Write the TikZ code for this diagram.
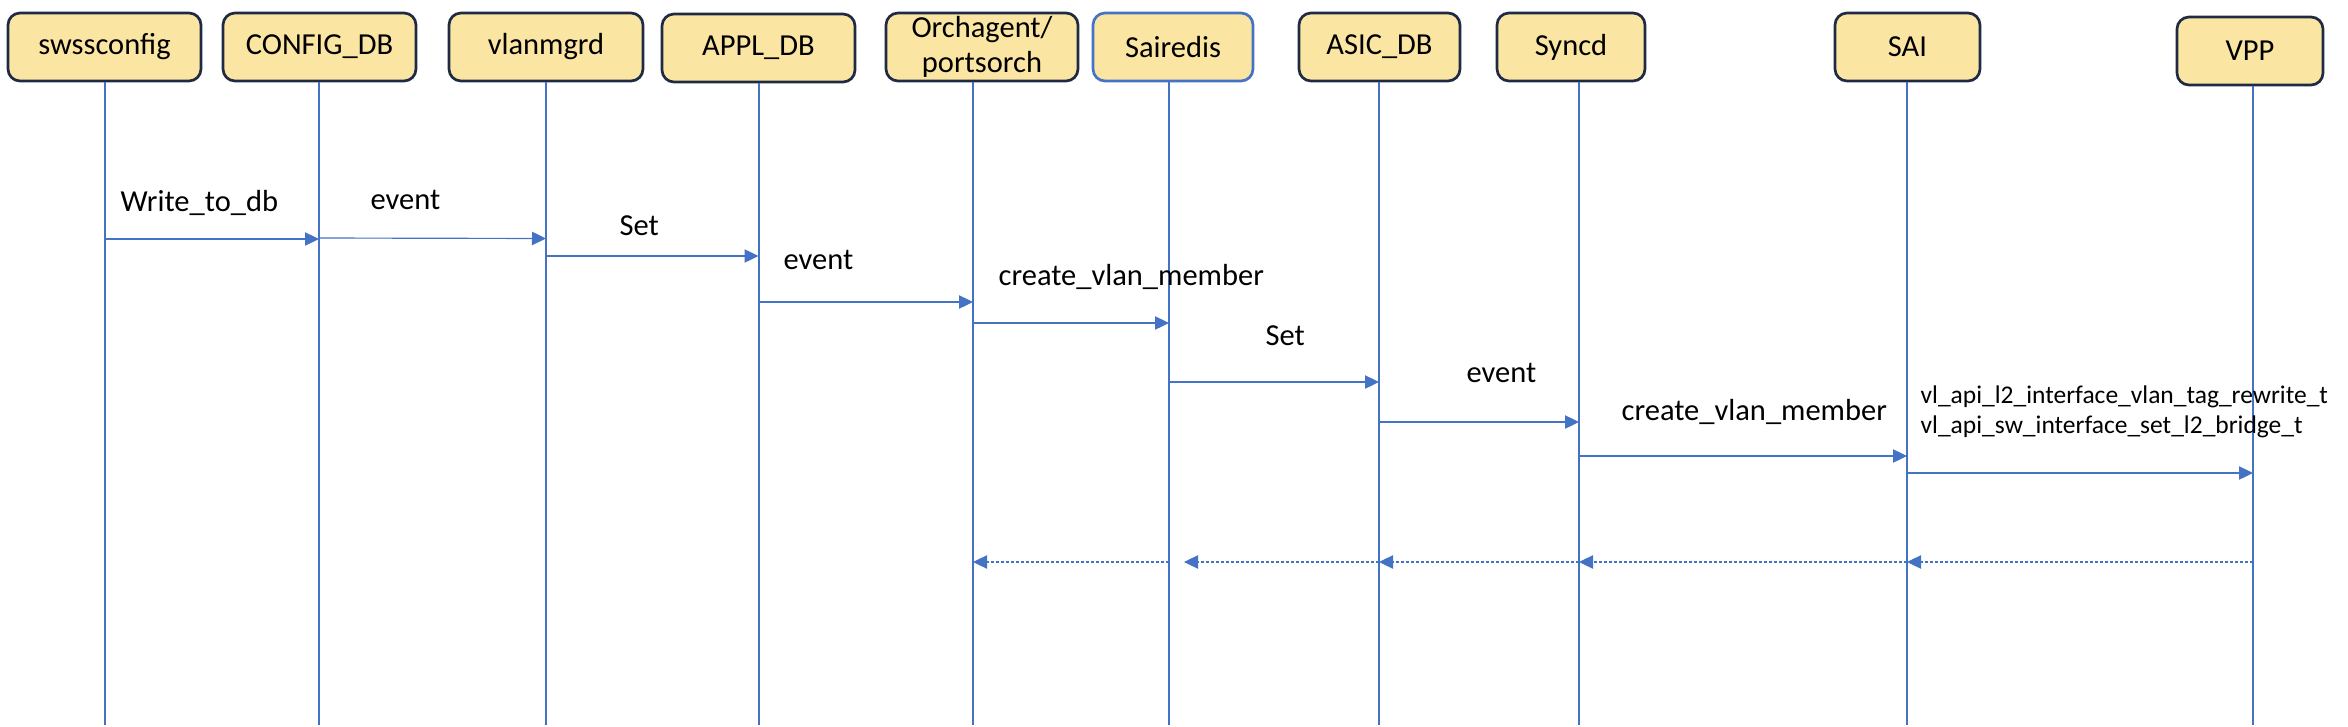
\documentclass[tikz,border=0pt]{standalone}
\usepackage{fontspec}
\setmainfont{Carlito}
\usetikzlibrary{arrows.meta}
\definecolor{boxfill}{HTML}{FBE5A3}
\definecolor{boxline}{HTML}{1F2A44}
\definecolor{lifeblue}{HTML}{4472C4}
\newcommand{\lblfont}{\fontsize{9.15}{10.5}\selectfont}
\newcommand{\apifont}{\fontsize{7.65}{9.1}\selectfont}

\begin{document}
\begin{tikzpicture}[x=0.3pt,y=-0.3pt,
  actor/.style={draw=boxline,line width=0.8pt,fill=boxfill,rounded corners=3.6pt,
    minimum height=20.4pt,inner sep=0pt,align=center,font=\lblfont},
  life/.style={lifeblue,line width=0.6pt},
  msg/.style={lifeblue,line width=0.35pt,-{Triangle[length=4.2pt,width=4pt]}},
  reply/.style={msg,dash pattern=on 0.9pt off 0.6pt},
  lbl/.style={anchor=west,inner sep=0pt,font=\lblfont}]
  \useasboundingbox (0,0) rectangle (2348,726);

  %actors
  \node[actor,minimum width=57.9pt] (swss) at (104.5,47) {swssconfig};
  \node[actor,minimum width=57.9pt] (cfgdb) at (319.5,47) {CONFIG\_DB};
  \node[actor,minimum width=58.2pt] (vlanmgr) at (546,47) {vlanmgrd};
  \node[actor,minimum width=57.9pt] (appldb) at (758.5,48) {APPL\_DB};
  \node[actor,minimum width=57.6pt] (orch) at (982,47) {Orchagent/\\portsorch};
  \node[actor,minimum width=48pt,draw=lifeblue] (redis) at (1173,47) {Sairedis};
  \node[actor,minimum width=48.3pt] (asicdb) at (1379.5,47) {ASIC\_DB};
  \node[actor,minimum width=44.4pt] (syncd) at (1571,47) {Syncd};
  \node[actor,minimum width=43.5pt] (sai) at (1907.5,47) {SAI};
  \node[actor,minimum width=43.8pt] (vpp) at (2250,51) {VPP};

  %lifelines
  \foreach \n/\x in {swss/104.5,cfgdb/319,vlanmgr/546,appldb/758.5,orch/973,
      redis/1169,asicdb/1379,syncd/1579,sai/1907,vpp/2253} {
    \coordinate (\n-l) at (\x,725);
    \draw[life] (\n.south -| \n-l) -- (\n-l);
  }

  %requests
  \draw[msg] (swss-l |- 0,239) -- (cfgdb-l |- 0,239);
  \draw[msg] (cfgdb-l |- 0,238) -- (vlanmgr-l |- 0,238.5);
  \draw[msg] (vlanmgr-l |- 0,256) -- (appldb-l |- 0,256);
  \draw[msg] (appldb-l |- 0,302) -- (orch-l |- 0,302);
  \draw[msg] (orch-l |- 0,323) -- (redis-l |- 0,323);
  \draw[msg] (redis-l |- 0,382) -- (asicdb-l |- 0,382);
  \draw[msg] (asicdb-l |- 0,422) -- (syncd-l |- 0,422);
  \draw[msg] (syncd-l |- 0,456) -- (sai-l |- 0,456);
  \draw[msg] (sai-l |- 0,473) -- (vpp-l |- 0,473);

  %replies
  \draw[reply] (vpp-l |- 0,562) -- (sai-l |- 0,562);
  \draw[reply] (sai-l |- 0,562) -- (syncd-l |- 0,562);
  \draw[reply] (syncd-l |- 0,562) -- (asicdb-l |- 0,562);
  \draw[reply,shorten >=4.5pt] (asicdb-l |- 0,562) -- (redis-l |- 0,562);
  \draw[reply] (redis-l |- 0,562) -- (orch-l |- 0,562);

  %labels
  \node[lbl] (t1) at (120,203) {Write\_to\_db};
  \node[lbl] (t2) at (370,200) {event};
  \node[lbl] (t3) at (619,226) {Set};
  \node[lbl] (t4) at (783,260) {event};
  \node[lbl] (t5) at (998,277) {create\_vlan\_member};
  \node[lbl] (t6) at (1265,336) {Set};
  \node[lbl] (t7) at (1466,373) {event};
  \node[lbl] (t8) at (1621,412) {create\_vlan\_member};
  \node[lbl,align=left,font=\apifont] (t9) at (1920,412)
    {vl\_api\_l2\_interface\_vlan\_tag\_rewrite\_t\\vl\_api\_sw\_interface\_set\_l2\_bridge\_t};
\end{tikzpicture}
\end{document}
